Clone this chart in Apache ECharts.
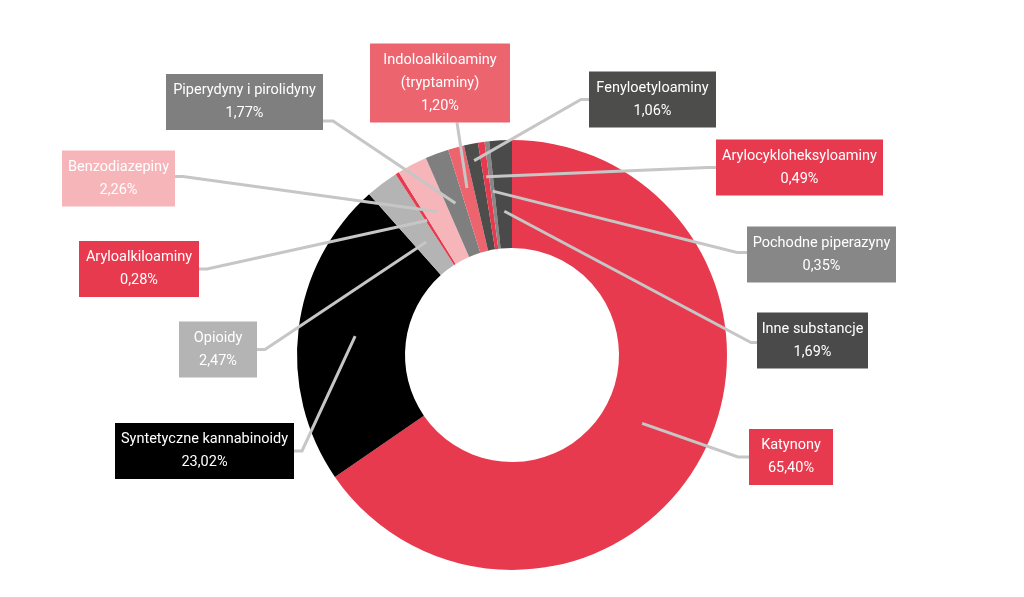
<!DOCTYPE html>
<html>
<head>
<meta charset="utf-8">
<script src="https://cdn.jsdelivr.net/npm/echarts@6/dist/echarts.min.js"></script>
<style>
html,body{margin:0;padding:0;background:#fff;}
#chart{width:1024px;height:597px;}
</style>
</head>
<body>
<div id="chart"></div>
<script>
// ---- data ----
var categories = [
  'Katynony',
  'Syntetyczne kannabinoidy',
  'Opioidy',
  'Aryloalkiloaminy',
  'Benzodiazepiny',
  'Piperydyny i pirolidyny',
  'Indoloalkiloaminy\n(tryptaminy)',
  'Fenyloetyloaminy',
  'Arylocykloheksyloaminy',
  'Pochodne piperazyny',
  'Inne substancje'
];
var shares = [65.40, 23.02, 2.47, 0.28, 2.26, 1.77, 1.20, 1.06, 0.49, 0.35, 1.69];

// ---- styles / layout (not data) ----
var colors = ['#E83A4E', '#000000', '#B4B4B4', '#E83A4E', '#F6B6B9', '#7F7F7F',
              '#EC646E', '#4D4D4C', '#E83A4E', '#878787', '#4A4A4A'];
// box center x, center y, box width, side of attachment, attach offset, elbow length, line end radius
var labelBoxes = [
  {cx: 791,   cy: 457,   w: 84,  side: 'left',   off: 0,  elbow: 11, r: 147},
  {cx: 204.5, cy: 451,   w: 179, side: 'right',  off: 0,  elbow: 8,  r: 158},
  {cx: 218,   cy: 349.5, w: 78,  side: 'right',  off: 0,  elbow: 8,  r: 142},
  {cx: 139,   cy: 269,   w: 120, side: 'right',  off: 0,  elbow: 8,  r: 159},
  {cx: 118.5, cy: 178.5, w: 113, side: 'right',  off: -2, elbow: 8,  r: 162},
  {cx: 244.5, cy: 102,   w: 157, side: 'right',  off: 19, elbow: 10, r: 162},
  {cx: 440,   cy: 83,    w: 140, side: 'bottom', off: 17, elbow: 0,  r: 173},
  {cx: 652.5, cy: 99.5,  w: 127, side: 'left',   off: 0,  elbow: 8,  r: 198},
  {cx: 799.5, cy: 167.5, w: 167, side: 'left',   off: 0,  elbow: 8,  r: 180},
  {cx: 821.5, cy: 254.5, w: 149, side: 'left',   off: -2, elbow: 10, r: 165},
  {cx: 812.5, cy: 340.5, w: 111, side: 'left',   off: 2,  elbow: 6,  r: 144}
];
var CENTER = [512, 355];
var RADII = [107, 215];

// visible ring
var ringData = categories.map(function (name, i) {
  return {name: name, value: shares[i], itemStyle: {color: colors[i]}};
});
// transparent overlay carrying labels + leader lines (drawn above the ring)
var labelData = categories.map(function (name, i) {
  return {
    name: name,
    value: shares[i],
    itemStyle: {color: 'rgba(0,0,0,0)'},
    label: {backgroundColor: colors[i], width: labelBoxes[i].w}
  };
});

var chart = echarts.init(document.getElementById('chart'), null, {renderer: 'canvas'});
chart.setOption({
  animation: false,
  backgroundColor: '#ffffff',
  series: [{
    type: 'pie',
    z: 2,
    center: CENTER,
    radius: RADII,
    startAngle: 90,
    clockwise: true,
    silent: true,
    itemStyle: {borderWidth: 0},
    emphasis: {disabled: true},
    label: {show: false},
    labelLine: {show: false},
    data: ringData
  }, {
    type: 'pie',
    z: 5,
    center: CENTER,
    radius: RADII,
    startAngle: 90,
    clockwise: true,
    silent: true,
    avoidLabelOverlap: false,
    itemStyle: {borderWidth: 0},
    emphasis: {disabled: true},
    data: labelData,
    label: {
      show: true,
      position: 'outside',
      color: '#ffffff',
      fontFamily: "Roboto, 'Liberation Sans', sans-serif",
      fontSize: 14.5,
      lineHeight: 23,
      padding: [5, 0, 5, 0],
      align: 'center',
      overflow: 'none',
      formatter: function (p) {
        return p.name + '\n' + shares[p.dataIndex].toFixed(2).replace('.', ',') + '%';
      }
    },
    labelLine: {
      show: true,
      showAbove: true,
      length: 10,
      length2: 10,
      smooth: false,
      lineStyle: {color: '#C6C6C6', width: 3, opacity: 1}
    },
    labelLayout: function (params) {
      var b = labelBoxes[params.dataIndex];
      var h = params.labelRect.height;
      var p0 = params.labelLinePoints ? params.labelLinePoints[0] : null;
      var ang = p0 ? Math.atan2(p0[1] - CENTER[1], p0[0] - CENTER[0]) : 0;
      var end = [CENTER[0] + b.r * Math.cos(ang), CENTER[1] + b.r * Math.sin(ang)];
      var attach, elbow;
      if (b.side === 'left') {
        attach = [b.cx - b.w / 2, b.cy + b.off];
        elbow = [attach[0] - b.elbow, attach[1]];
      } else if (b.side === 'right') {
        attach = [b.cx + b.w / 2, b.cy + b.off];
        elbow = [attach[0] + b.elbow, attach[1]];
      } else {
        attach = [b.cx + b.off, b.cy + h / 2];
        elbow = [attach[0], attach[1] + b.elbow];
      }
      return {
        x: b.cx,
        y: b.cy,
        align: 'center',
        verticalAlign: 'middle',
        hideOverlap: false,
        labelLinePoints: [end, elbow, attach]
      };
    }
  }]
});
</script>
</body>
</html>
